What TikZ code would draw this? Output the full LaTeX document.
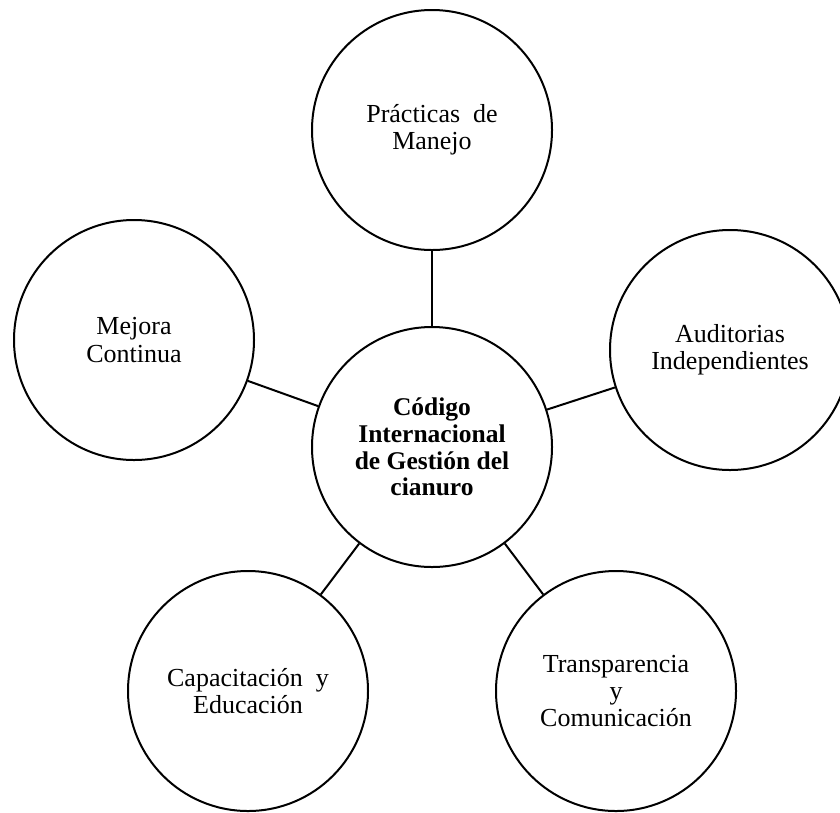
\documentclass[tikz,border=0pt]{standalone}
\usepackage{fontspec}
\setmainfont{Liberation Serif}
\begin{document}
\begin{tikzpicture}[x=1pt,y=-1pt,
  bubble/.style={draw=black, line width=2pt, circle, minimum size=240pt, inner sep=0pt, align=center, fill=white, font=\fontsize{26}{27.3}\selectfont},
  hub/.style={bubble, font=\fontsize{25.5}{26.7}\selectfont\bfseries},
  link/.style={draw=black, line width=2pt}]
\useasboundingbox (0,0) rectangle (840,812);
\clip (0,0) rectangle (840,812);
\node[hub] (c) at (432,447) {Código\\Internacional\\de Gestión del\\cianuro};
\node[bubble] (t) at (432,130) {Prácticas\ \ de\\Manejo};
\node[bubble] (l) at (134,340) {Mejora\\Continua};
\node[bubble] (r) at (730,350) {Auditorias\\Independientes};
\node[bubble] (bl) at (248,691) {Capacitación\ \ y\\Educación};
\node[bubble] (br) at (616,691) {Transparencia\\y\\Comunicación};
\draw[link] (c) -- (t);
\draw[link] (c) -- (l);
\draw[link] (c) -- (r);
\draw[link] (c) -- (bl);
\draw[link] (c) -- (br);
\end{tikzpicture}
\end{document}
